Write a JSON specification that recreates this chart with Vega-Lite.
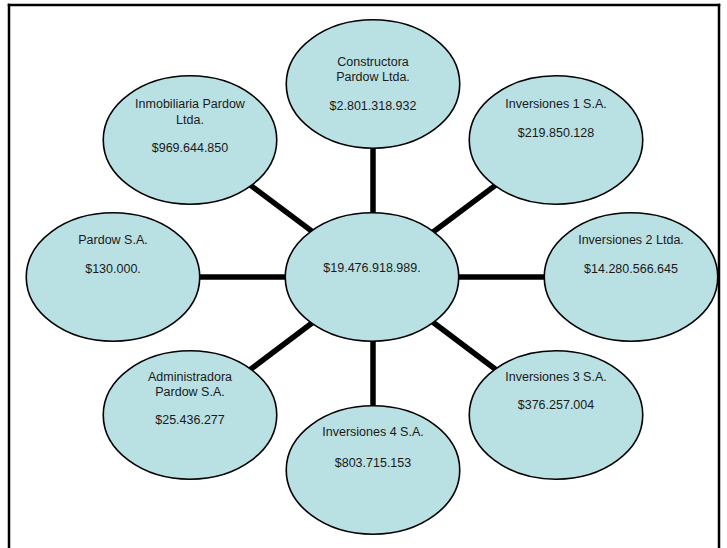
{
  "$schema": "https://vega.github.io/schema/vega-lite/v6.json",
  "width": 727,
  "height": 548,
  "autosize": {"type": "fit", "contains": "padding"},
  "padding": 0,
  "background": "white",
  "config": {"view": {"stroke": null}},
  "datasets": {
    "frame": [
      {"x": 9, "y": 5, "x2": 9, "y2": 560},
      {"x": 9, "y": 5, "x2": 719, "y2": 5},
      {"x": 719, "y": 5, "x2": 719, "y2": 560}
    ],
    "links": [
      {"x": 373, "y": 277, "x2": 373, "y2": 84},
      {"x": 373, "y": 277, "x2": 190, "y2": 140},
      {"x": 373, "y": 277, "x2": 556, "y2": 140},
      {"x": 373, "y": 277, "x2": 113, "y2": 277},
      {"x": 373, "y": 277, "x2": 631, "y2": 277},
      {"x": 373, "y": 277, "x2": 190, "y2": 415},
      {"x": 373, "y": 277, "x2": 556, "y2": 415},
      {"x": 373, "y": 277, "x2": 373, "y2": 470}
    ],
    "nodes": [
      {"node": "Constructora Pardow Ltda.", "x": 373, "y": 84},
      {"node": "Inmobiliaria Pardow Ltda.", "x": 190, "y": 140},
      {"node": "Inversiones 1 S.A.", "x": 556, "y": 140},
      {"node": "Pardow S.A.", "x": 113, "y": 277},
      {"node": "Total", "x": 372, "y": 277},
      {"node": "Inversiones 2 Ltda.", "x": 631, "y": 277},
      {"node": "Administradora Pardow S.A.", "x": 190, "y": 415},
      {"node": "Inversiones 3 S.A.", "x": 556, "y": 415},
      {"node": "Inversiones 4 S.A.", "x": 373, "y": 470}
    ],
    "labels": [
      {"text": "Constructora", "x": 373, "y": 62},
      {"text": "Pardow Ltda.", "x": 373, "y": 77},
      {"text": "$2.801.318.932", "x": 373, "y": 105.5},
      {"text": "Inmobiliaria Pardow", "x": 190, "y": 104},
      {"text": "Ltda.", "x": 190, "y": 119.5},
      {"text": "$969.644.850", "x": 190, "y": 148},
      {"text": "Inversiones 1 S.A.", "x": 556, "y": 104},
      {"text": "$219.850.128", "x": 556, "y": 133},
      {"text": "Pardow S.A.", "x": 113, "y": 240},
      {"text": "$130.000.", "x": 113, "y": 269},
      {"text": "$19.476.918.989.", "x": 372, "y": 268},
      {"text": "Inversiones 2 Ltda.", "x": 631, "y": 240},
      {"text": "$14.280.566.645", "x": 631, "y": 269},
      {"text": "Administradora", "x": 190, "y": 377},
      {"text": "Pardow S.A.", "x": 190, "y": 392},
      {"text": "$25.436.277", "x": 190, "y": 420},
      {"text": "Inversiones 3 S.A.", "x": 556, "y": 377},
      {"text": "$376.257.004", "x": 556, "y": 405},
      {"text": "Inversiones 4 S.A.", "x": 373, "y": 432},
      {"text": "$803.715.153", "x": 373, "y": 463}
    ]
  },
  "encoding": {
    "x": {"field": "x", "type": "quantitative", "scale": {"domain": [0, 727], "nice": false, "zero": false}, "axis": null},
    "y": {"field": "y", "type": "quantitative", "scale": {"domain": [0, 548], "nice": false, "zero": false, "reverse": true}, "axis": null}
  },
  "layer": [
    {
      "data": {"name": "frame"},
      "mark": {"type": "rule", "color": "black", "strokeWidth": 2.5, "strokeCap": "square", "clip": true},
      "encoding": {
        "x2": {"field": "x2"},
        "y2": {"field": "y2"}
      }
    },
    {
      "data": {"name": "links"},
      "mark": {"type": "rule", "color": "black", "strokeWidth": 5.5},
      "encoding": {
        "x2": {"field": "x2"},
        "y2": {"field": "y2"}
      }
    },
    {
      "data": {"name": "nodes"},
      "mark": {
        "type": "point",
        "filled": true,
        "shape": "M1,0C1,0.4087,0.5523,0.74,0,0.74C-0.5523,0.74,-1,0.4087,-1,0C-1,-0.4087,-0.5523,-0.74,0,-0.74C0.5523,-0.74,1,-0.4087,1,0Z",
        "size": 30100,
        "fill": "#b9e0e3",
        "fillOpacity": 1,
        "opacity": 1,
        "stroke": "black",
        "strokeWidth": 1.6
      }
    },
    {
      "data": {"name": "labels"},
      "mark": {"type": "text", "font": "Liberation Sans", "fontSize": 12.5, "color": "#1a1a1a", "align": "center", "baseline": "middle"},
      "encoding": {"text": {"field": "text", "type": "nominal"}}
    }
  ]
}
